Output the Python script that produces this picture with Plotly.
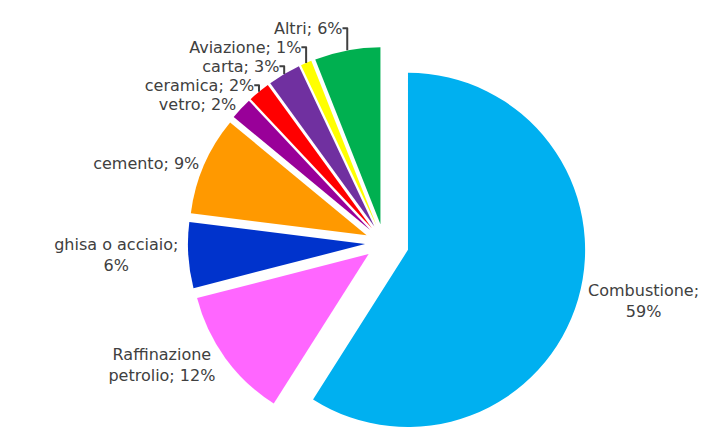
import plotly.graph_objects as go

# Emissioni per settore (quote percentuali)
labels = ['Combustione', 'Raffinazione petrolio', 'ghisa o acciaio', 'cemento',
          'vetro', 'ceramica', 'carta', 'Aviazione', 'Altri']
values = [59, 12, 6, 9, 2, 2, 3, 1, 6]
label_text = ['Combustione;<br>59%', 'Raffinazione<br>petrolio; 12%',
              'ghisa o acciaio;<br>6%', 'cemento; 9%', 'vetro; 2%',
              'ceramica; 2%', 'carta; 3%', 'Aviazione; 1%', 'Altri; 6%']
colors = ['#00B0F0', '#FF66FF', '#0033CC', '#FF9900', '#990099',
          '#FF0000', '#7030A0', '#FFFF00', '#00B050']
pulls = [0.141, 0.107, 0.107, 0.107, 0.107, 0.107, 0.107, 0.107, 0.107]

fig = go.Figure(go.Pie(
    labels=labels,
    values=values,
    text=label_text,
    texttemplate='%{text}',
    textposition='outside',
    textfont=dict(family='DejaVu Sans', size=16, color='#404040'),
    marker=dict(colors=colors, line=dict(width=0)),
    pull=pulls,
    sort=False,
    direction='clockwise',
    rotation=0,
    automargin=False,
    domain=dict(x=[0.05, 0.9988], y=[0.0, 0.925]),
    showlegend=False,
    hoverinfo='label+percent',
))

fig.update_layout(
    width=717,
    height=437,
    margin=dict(t=0, b=0, l=0, r=0),
    paper_bgcolor='white',
    plot_bgcolor='white',
)

fig.write_html("out.html")
